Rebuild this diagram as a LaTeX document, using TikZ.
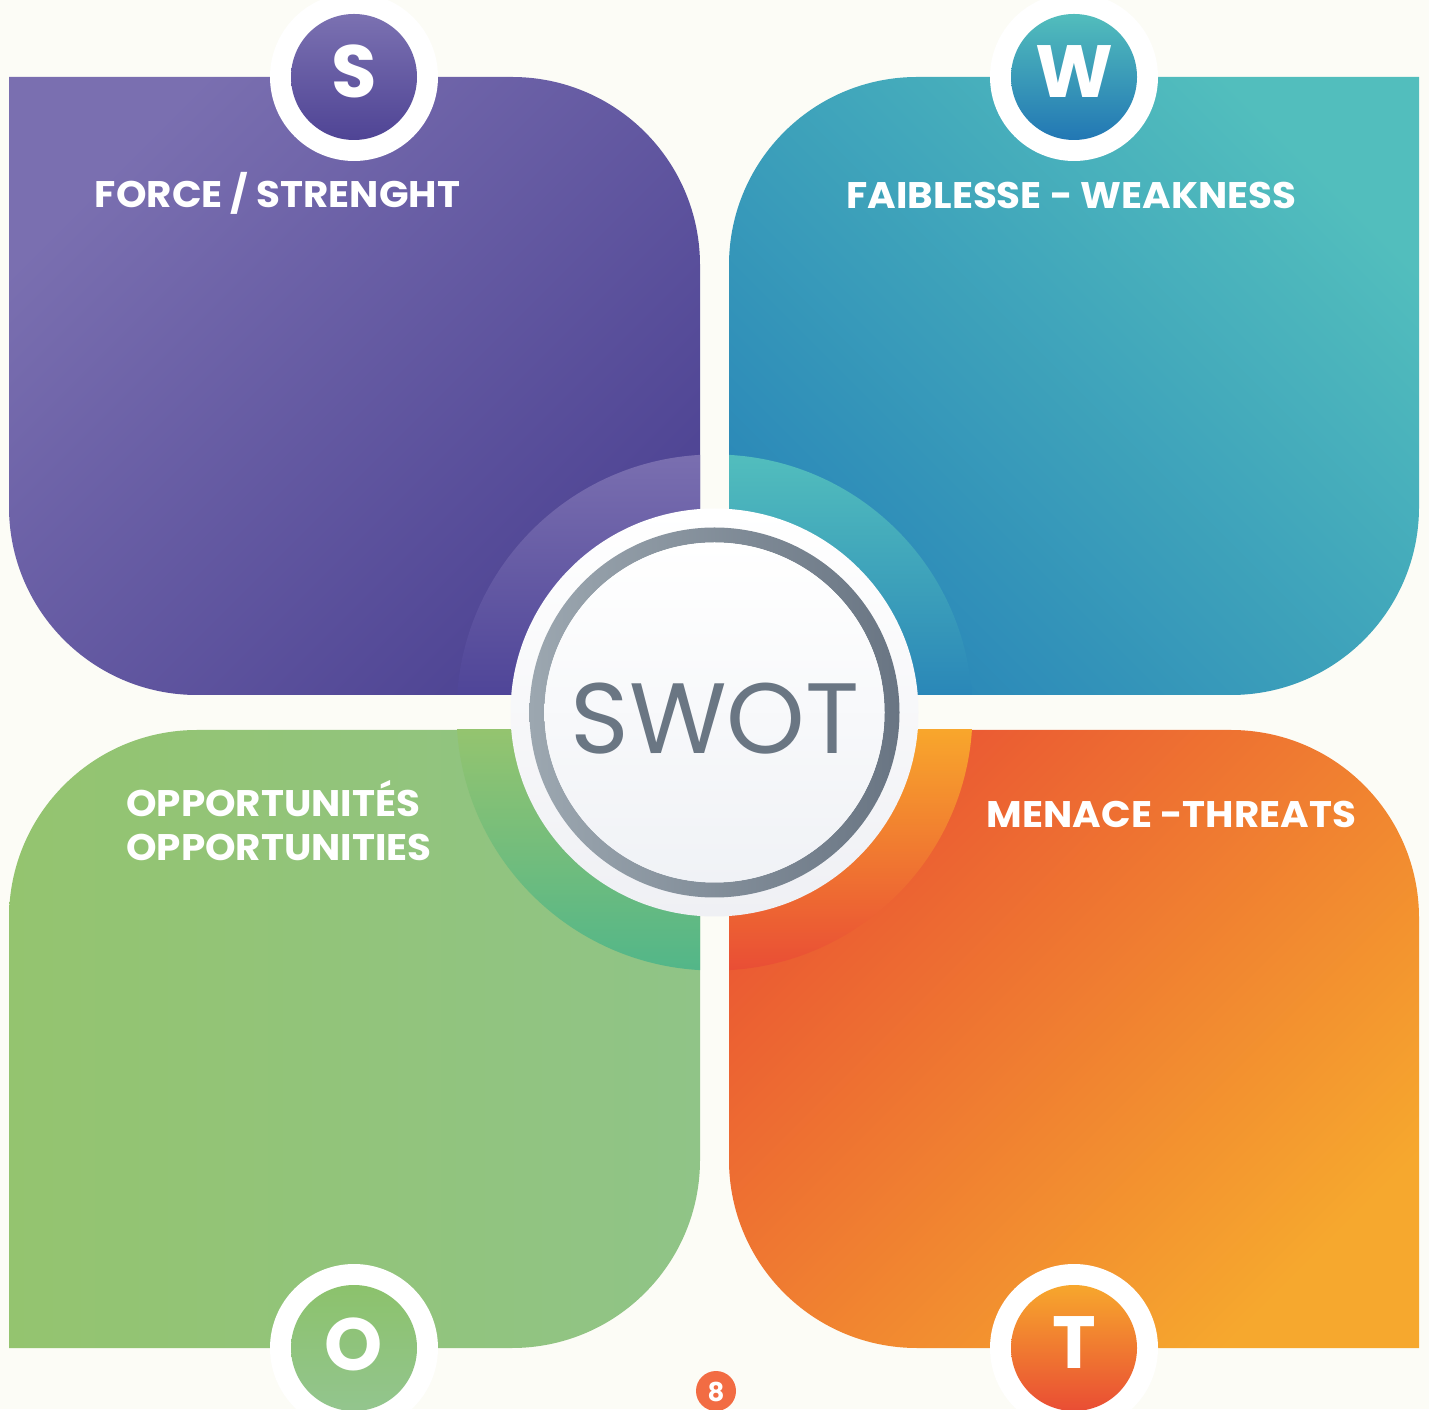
\documentclass[tikz,border=0pt]{standalone}
\usepackage{fontspec}
\setsansfont{Poppins}
\newfontfamily\pop{Poppins}
\newfontfamily\popw{Poppins}[FakeStretch=1.05]
\definecolor{bg}{HTML}{FCFCF6}
\definecolor{pA}{HTML}{7A6FB0}
\definecolor{pB}{HTML}{4D4393}
\definecolor{pC}{HTML}{4F4598}
\definecolor{tA}{HTML}{52BEBD}
\definecolor{tB}{HTML}{2A87B8}
\definecolor{gA}{HTML}{94C46F}
\definecolor{gB}{HTML}{90C487}
\definecolor{gC}{HTML}{52B689}
\definecolor{oA}{HTML}{EA5733}
\definecolor{oB}{HTML}{F6A82E}
\definecolor{oC}{HTML}{F8A62C}
\definecolor{oD}{HTML}{E94D35}
\definecolor{grayA}{HTML}{9CA7B0}
\definecolor{grayB}{HTML}{697583}
\definecolor{swot}{HTML}{6A7683}
\definecolor{pnum}{HTML}{F26C43}
\definecolor{cwA}{HTML}{EFF0F4}
\definecolor{cwB}{HTML}{F0F2F6}
\definecolor{sA}{HTML}{7B71B1}
\definecolor{sB}{HTML}{4F4495}
\definecolor{wA}{HTML}{52BDBC}
\definecolor{wB}{HTML}{2277B4}
\definecolor{oLA}{HTML}{8CC26C}
\definecolor{oLB}{HTML}{93C58E}
\definecolor{tLA}{HTML}{F7A72D}
\definecolor{tLB}{HTML}{E94D34}
\tikzset{
  title/.style={text=white, font=\popw\bfseries\fontsize{18.5pt}{22pt}\selectfont, inner sep=0pt},
  letterring/.style={circle, fill=white, minimum size=84pt, inner sep=0pt},
  letterdisc/.style={circle, minimum size=63pt, inner sep=0pt},
  letter/.style={text=white, font=\pop\bfseries\fontsize{37pt}{40pt}\selectfont, inner sep=0pt},
}
\begin{document}
\begin{tikzpicture}[x=0.5pt,y=0.5pt]
\useasboundingbox (0,0) rectangle (1429,1409);
\clip (0,0) rectangle (1429,1409);
\fill[bg] (0,0) rectangle (1429,1409);
% panels
\shade[top color=pA, bottom color=pB, shading angle=45]
  (9,1332) -- (512,1332) arc[start angle=90,end angle=0,radius=94pt] -- (700,714) -- (197,714) arc[start angle=270,end angle=180,radius=94pt] -- cycle;
\shade[top color=tA, bottom color=tB, shading angle=-45]
  (1419,1332) -- (917,1332) arc[start angle=90,end angle=180,radius=94pt] -- (729,714) -- (1231,714) arc[start angle=270,end angle=360,radius=94pt] -- cycle;
\shade[left color=gA, right color=gB]
  (700,679) -- (197,679) arc[start angle=90,end angle=180,radius=94pt] -- (9,61) -- (512,61) arc[start angle=270,end angle=360,radius=94pt] -- cycle;
\shade[top color=oA, bottom color=oB, shading angle=45]
  (729,679) -- (1231,679) arc[start angle=90,end angle=0,radius=94pt] -- (1419,61) -- (917,61) arc[start angle=270,end angle=180,radius=94pt] -- cycle;
% quarter rings
\coordinate (C) at (714.5,696.5);
\begin{scope}
\clip (C) circle (129pt);
\shade[top color=pA, bottom color=pC] (450,714) rectangle (700,956);
\shade[top color=tA, bottom color=tB] (729,714) rectangle (980,956);
\shade[top color=gA, bottom color=gC] (450,437) rectangle (700,679);
\shade[top color=oC, bottom color=oD] (729,437) rectangle (980,679);
\end{scope}
% center
\shade[top color=white, bottom color=cwA] (C) circle (102pt);
\shade[left color=grayA, right color=grayB, even odd rule] (C) circle (92.5pt) (C) circle (85pt);
\shade[top color=white, bottom color=cwB] (C) circle (85pt);
\node[text=swot, font=\pop\fontsize{50pt}{52pt}\selectfont, inner sep=0pt, anchor=base] (swotlbl) at (715,655) {SWOT};
% letter circles
\node[letterring] (sring) at (354,1332) {};
\node[letterdisc, top color=sA, bottom color=sB] (sdisc) at (354,1332) {};
\node[letter, anchor=base] (slbl) at (354,1311) {S};
\node[letterring] (wring) at (1074,1332) {};
\node[letterdisc, top color=wA, bottom color=wB] (wdisc) at (1074,1332) {};
\node[letter, anchor=base] (wlbl) at (1074,1311) {W};
\node[letterring] (oring) at (354,61) {};
\node[letterdisc, top color=oLA, bottom color=oLB] (odisc) at (354,61) {};
\node[letter, anchor=base] (olbl) at (354,39) {O};
\node[letterring] (tring) at (1074,61) {};
\node[letterdisc, top color=tLA, bottom color=tLB] (tdisc) at (1074,61) {};
\node[letter, anchor=base] (tlbl) at (1074,41) {T};
% titles
\node[title, anchor=base] (st) at (277.5,1201) {FORCE / STRENGHT};
\node[title, anchor=base] (wt) at (1071.5,1200) {FAIBLESSE - WEAKNESS};
\node[title, anchor=base west] (ot1) at (126,592) {OPPORTUNITÉS};
\node[title, anchor=base west] (ot2) at (126,548) {OPPORTUNITIES};
\node[title, anchor=base] (tt) at (1171.5,581) {MENACE -THREATS};
% page number
\node[circle, fill=pnum, minimum size=20pt, inner sep=0pt] (pg) at (716,18) {};
\node[text=white, font=\pop\bfseries\fontsize{13pt}{14pt}\selectfont, inner sep=0pt] (pgl) at (716,17) {8};
\end{tikzpicture}
\end{document}
